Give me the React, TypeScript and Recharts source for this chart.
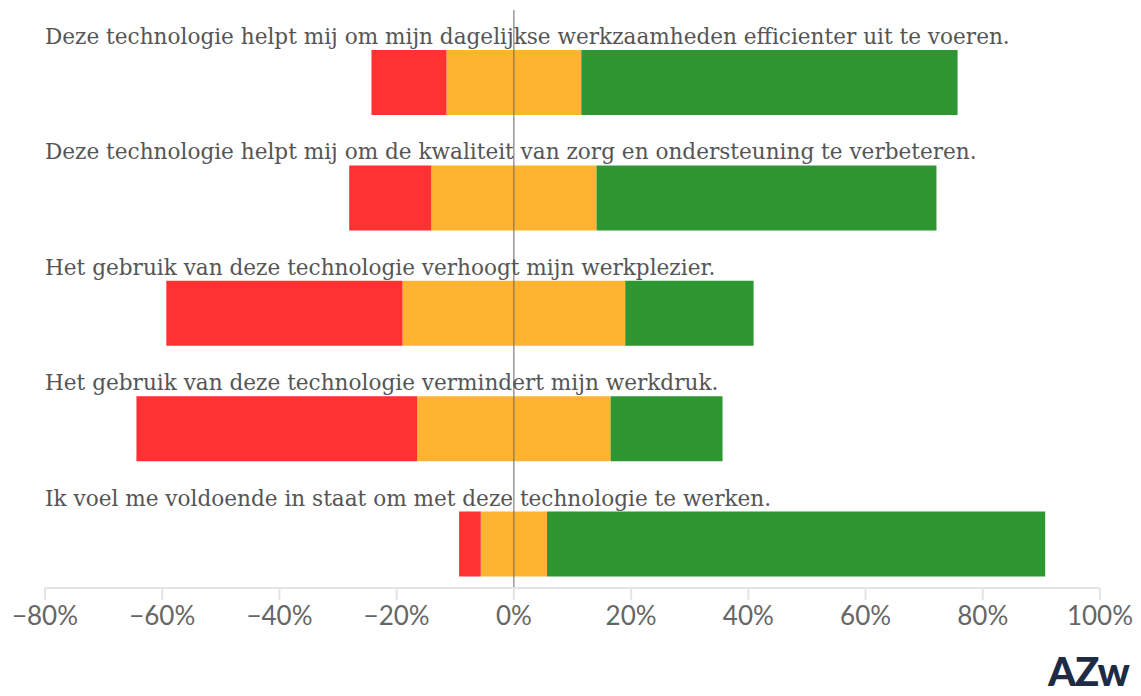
import { BarChart, Bar, XAxis, YAxis, ReferenceLine, LabelList } from 'recharts'

const statements = [
  'Deze technologie helpt mij om mijn dagelijkse werkzaamheden efficienter uit te voeren.',
  'Deze technologie helpt mij om de kwaliteit van zorg en ondersteuning te verbeteren.',
  'Het gebruik van deze technologie verhoogt mijn werkplezier.',
  'Het gebruik van deze technologie vermindert mijn werkdruk.',
  'Ik voel me voldoende in staat om met deze technologie te werken.',
]

// share of respondents (%)
const disagree = [12.8, 14.0, 40.3, 47.9, 3.7]
const neutral = [23.0, 28.2, 38.0, 33.0, 11.3]
const agree = [64.2, 58.0, 21.9, 19.1, 85.0]

const xTicks = [-80, -60, -40, -20, 0, 20, 40, 60, 80, 100]

const RED = '#fe3232'
const ORANGE = '#feb431'
const GREEN = '#2e9732'

// neutral is split in half around 0
const rows = statements.map((statement, i) => ({
  statement,
  neutralNeg: -neutral[i] / 2,
  disagree: -disagree[i],
  neutralPos: neutral[i] / 2,
  agree: agree[i],
}))

const LEFT = 45

// statement text sits above its bar, left aligned with the plot
function StatementLabel(props: any) {
  const { y, value } = props
  return (
    <text
      x={LEFT}
      y={y - 6}
      textAnchor="start"
      fontFamily="'DejaVu Serif', serif"
      fontSize={21.6}
      fill="#555"
    >
      {value}
    </text>
  )
}

const fmt = (v: number) => (v < 0 ? `\u2212${Math.abs(v)}%` : `${v}%`)

export default function App() {
  return (
    <div
      style={{
        position: 'absolute',
        left: 0,
        top: 0,
        width: 1141,
        height: 696,
        overflow: 'hidden',
        background: '#fff',
      }}
    >
      <BarChart
        width={1141}
        height={696}
        data={rows}
        layout="vertical"
        stackOffset="sign"
        barSize={65}
        margin={{ top: 10, right: 41, left: LEFT, bottom: 48 }}
      >
        <XAxis
          type="number"
          domain={[-80, 100]}
          ticks={xTicks}
          tickFormatter={fmt}
          axisLine={{ stroke: '#e4e4e4', strokeWidth: 2 }}
          tickLine={{ stroke: '#e4e4e4', strokeWidth: 2 }}
          tickSize={12}
          tickMargin={7}
          height={60}
          tick={{ fontFamily: 'Lato, sans-serif', fontSize: 26, fill: '#666' }}
          interval={0}
        />
        <YAxis
          type="category"
          dataKey="statement"
          width={0}
          axisLine={false}
          tickLine={false}
          tick={false}
          padding={{ top: 15, bottom: -14 }}
        />
        <Bar dataKey="neutralNeg" stackId="s" fill={ORANGE} isAnimationActive={false} />
        <Bar dataKey="disagree" stackId="s" fill={RED} isAnimationActive={false} />
        <Bar dataKey="neutralPos" stackId="s" fill={ORANGE} isAnimationActive={false} />
        <Bar dataKey="agree" stackId="s" fill={GREEN} isAnimationActive={false}>
          <LabelList dataKey="statement" content={<StatementLabel />} />
        </Bar>
        <ReferenceLine x={0} stroke="#666" strokeWidth={1} />
      </BarChart>
      <div
        style={{
          position: 'absolute',
          left: 1048,
          top: 651,
          fontFamily: 'Lato, sans-serif',
          fontWeight: 900,
          fontSize: 40,
          color: '#1d2b45',
          letterSpacing: -1,
          lineHeight: 1,
        }}
      >
        AZw
      </div>
    </div>
  )
}
